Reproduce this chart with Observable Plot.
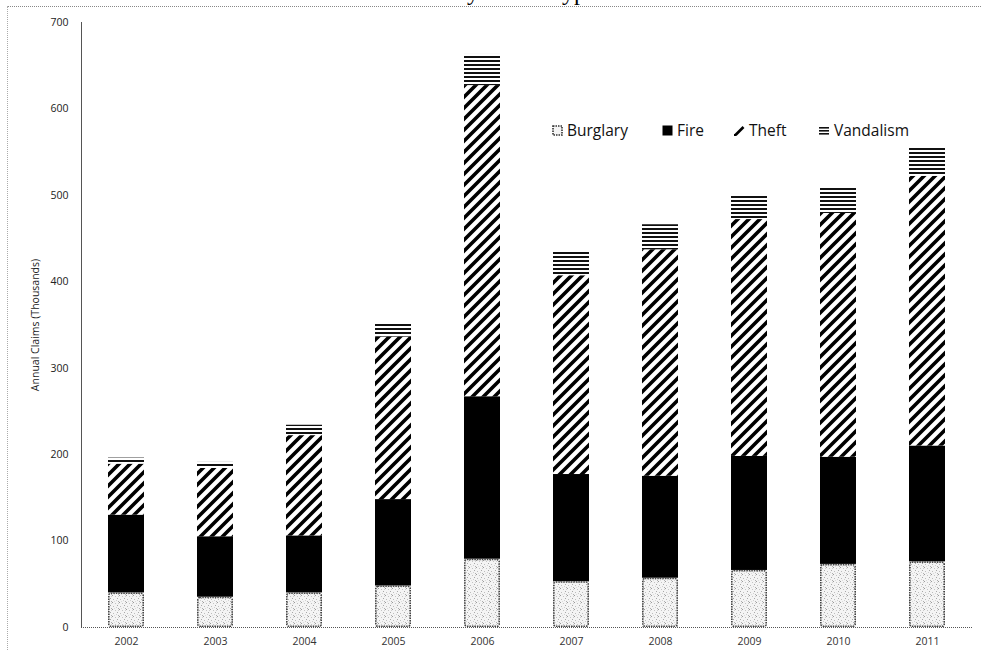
<!DOCTYPE html>
<html>
<head>
<meta charset="utf-8">
<script src="https://cdn.jsdelivr.net/npm/d3@7"></script>
<script src="https://cdn.jsdelivr.net/npm/@observablehq/plot@0.6"></script>
<style>
  html, body { margin: 0; padding: 0; background: #fff; overflow: hidden; }
  #wrap { position: relative; width: 981px; height: 650px; overflow: hidden; }
  #frame { position: absolute; left: 7px; top: 6px; right: 0; bottom: 0;
           border-top: 1px dotted #888; border-left: 1px dotted #aaa; pointer-events: none; }
  #title { position: absolute; top: -21px; left: 0; width: 981px; text-align: center;
           font-family: "Liberation Serif", serif; font-size: 24px; color: #000; padding-left: 0; }
  #title span { position: relative; left: -40px; }
  .leg { position: absolute; top: 119px; font-family: "Open Sans", sans-serif; font-size: 15.5px;
         color: #111; display: flex; align-items: center; white-space: nowrap; }
  .leg svg { margin-right: 4px; }
  #chart { position: absolute; left: 0; top: 0; }
</style>
</head>
<body>
<div id="wrap">
  <div id="title"><span>Annual Claims by Claim Type</span></div>
  <div id="frame"></div>
  <div id="chart"></div>
  <div id="legend"></div>
</div>
<script>
const years = ["2002","2003","2004","2005","2006","2007","2008","2009","2010","2011"];
const types = ["Burglary","Fire","Theft","Vandalism"];
const burglary  = [40, 35, 40, 48, 79, 53, 57, 66, 73, 76];
const fire      = [90, 70, 66, 100, 188, 124, 118, 132, 124, 134];
const theft     = [59, 79, 116, 188, 360, 230, 262, 274, 282, 312];
const vandalism = [7, 7, 12, 15, 36, 28, 29, 29, 31, 33];
const yTicks = [0, 100, 200, 300, 400, 500, 600, 700];

const series = {Burglary: burglary, Fire: fire, Theft: theft, Vandalism: vandalism};
const data = [];
years.forEach((yr, i) => types.forEach(t => data.push({year: yr, type: t, value: series[t][i]})));
const burgData = years.map((yr, i) => ({year: yr, value: burglary[i]}));

const fills = ["url(#pBurg)", "#000", "url(#pTheft)", "url(#pVand)"];

const plot = Plot.plot({
  width: 981,
  height: 650,
  marginLeft: 81,
  marginRight: 9,
  marginTop: 22,
  marginBottom: 23,
  style: {fontFamily: "'Open Sans', sans-serif", fontSize: "10.5px", color: "#333", background: "transparent"},
  x: {domain: years, paddingInner: 0.6, paddingOuter: 0.3, label: null},
  y: {domain: [0, 700], label: null},
  color: {domain: types, range: fills},
  marks: [
    Plot.barY(data, {x: "year", y: "value", fill: "type", order: types}),
    Plot.barY(burgData, {x: "year", y: "value", fill: "none", stroke: "#444", strokeWidth: 1.6,
                         strokeDasharray: "1.5,1", inset: 0.8, rx: 2}),
    Plot.axisX({tickSize: 0, tickPadding: 10, fontSize: 10.5, fill: "#333"}),
    Plot.axisY({ticks: yTicks, tickSize: 0, tickPadding: 13, fontSize: 10.5, fill: "#222",
                label: "Annual Claims (Thousands)", labelAnchor: "center", labelArrow: false, labelOffset: 50}),
    Plot.frame({anchor: "left", stroke: "#555", strokeDasharray: "1,1"}),
    Plot.ruleY([0], {stroke: "#555", strokeDasharray: "1,1"})
  ]
});

// pattern definitions (styles only)
const svg = d3.select(plot.tagName === "svg" ? plot : plot.querySelector("svg"));
const defs = svg.insert("defs", ":first-child");
const pb = defs.append("pattern").attr("id", "pBurg").attr("patternUnits", "userSpaceOnUse")
  .attr("width", 7).attr("height", 7);
pb.append("rect").attr("width", 7).attr("height", 7).attr("fill", "#f4f4f4");
[[0,0,"#9a9a9a"],[3,1,"#c4c4c4"],[5,3,"#a8a8a8"],[1,4,"#bdbdbd"],[4,5,"#d0d0d0"],[6,6,"#b0b0b0"],[2,6,"#dcdcdc"],[6,1,"#cfcfcf"]]
  .forEach(([x,y,c]) => pb.append("rect").attr("x", x).attr("y", y).attr("width", 1).attr("height", 1).attr("fill", c));
const pt = defs.append("pattern").attr("id", "pTheft").attr("patternUnits", "userSpaceOnUse")
  .attr("width", 11).attr("height", 11);
pt.append("rect").attr("width", 11).attr("height", 11).attr("fill", "#fff");
pt.append("path").attr("d", "M-3,3 L3,-3 M-3,14 L14,-3 M8,14 L14,8").attr("stroke", "#000").attr("stroke-width", 3.6);
const pv = defs.append("pattern").attr("id", "pVand").attr("patternUnits", "userSpaceOnUse")
  .attr("width", 8).attr("height", 4);
pv.append("rect").attr("width", 8).attr("height", 4).attr("fill", "#fff");
pv.append("rect").attr("y", 0).attr("width", 8).attr("height", 2).attr("fill", "#111");

document.getElementById("chart").appendChild(plot);

// legend
const legend = document.getElementById("legend");
const legItems = [
  {name: "Burglary", left: 552},
  {name: "Fire", left: 662},
  {name: "Theft", left: 734},
  {name: "Vandalism", left: 819}
];
const icons = {
  Burglary: '<rect x="1" y="1" width="9" height="9" fill="#f4f4f4" stroke="#333" stroke-width="1.6" stroke-dasharray="1.5,1"/>',
  Fire: '<rect x="0.5" y="0.5" width="10" height="10" fill="#000"/>',
  Theft: '<path d="M1.5,10 L9.5,2" stroke="#000" stroke-width="2.6"/><rect x="0" y="9" width="2" height="2" fill="#000"/>',
  Vandalism: '<rect x="0" y="2" width="10" height="1.6" fill="#111"/><rect x="0" y="5" width="10" height="1.6" fill="#111"/><rect x="0" y="8" width="10" height="1.6" fill="#111"/>'
};
legItems.forEach(it => {
  const d = document.createElement("div");
  d.className = "leg";
  d.style.left = it.left + "px";
  d.innerHTML = `<svg width="11" height="11">${icons[it.name]}</svg><span>${it.name}</span>`;
  legend.appendChild(d);
});
</script>
</body>
</html>
